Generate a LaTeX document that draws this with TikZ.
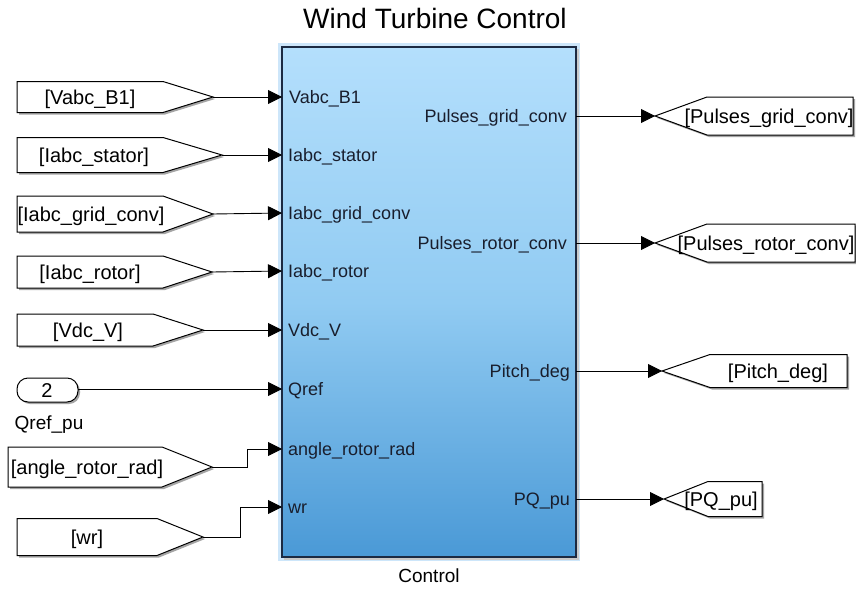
\documentclass[tikz,border=0pt]{standalone}
\usepackage{fontspec}
\setmainfont{Liberation Sans}
\usetikzlibrary{arrows.meta}
\definecolor{blkTop}{RGB}{180,223,252}
\definecolor{blkMid}{RGB}{145,203,242}
\definecolor{blkBot}{RGB}{74,153,214}
\definecolor{blkEdge}{RGB}{28,42,66}
\definecolor{blkGlow}{RGB}{205,230,250}
\definecolor{shadowgray}{RGB}{165,165,165}
\definecolor{lbltext}{RGB}{25,30,45}
\tikzset{
  conn/.style={line width=0.9pt, -{Triangle[length=14pt,width=14pt]}},
  tagshape/.style={draw=black, line width=1pt, fill=white},
  tagshadow/.style={fill=shadowgray, draw=none},
  tagtext/.style={font=\fontsize{20}{20}\selectfont, inner sep=0pt, anchor=base},
  portin/.style={font=\fontsize{18}{18}\selectfont, inner sep=0pt, anchor=base west, text=lbltext},
  portout/.style={font=\fontsize{18}{18}\selectfont, inner sep=0pt, anchor=base east, text=lbltext},
  plain/.style={font=\fontsize{19}{19}\selectfont, inner sep=0pt, anchor=base},
}
% left "From" tag: name, xl, xr, yc, halfh, slant, textx, text
\newcommand{\fromtag}[8]{%
  \fill[tagshadow] (#2+2,#4-#5+2) -- (#3-#6+2,#4-#5+2) -- (#3+2,#4+2) -- (#3-#6+2,#4+#5+2) -- (#2+2,#4+#5+2) -- cycle;
  \draw[tagshape] (#2,#4-#5) -- (#3-#6,#4-#5) -- (#3,#4) -- (#3-#6,#4+#5) -- (#2,#4+#5) -- cycle;
  \node[tagtext] (#1) at (#7,#4+7) {#8};
  \coordinate (#1tip) at (#3,#4);
}
% right "Goto" tag: name, xtip, xr, yc, halfh, slant, textx, text
\newcommand{\gototag}[8]{%
  \fill[tagshadow] (#2+2,#4+2) -- (#2+#6+2,#4-#5+2) -- (#3+2,#4-#5+2) -- (#3+2,#4+#5+2) -- (#2+#6+2,#4+#5+2) -- cycle;
  \draw[tagshape] (#2,#4) -- (#2+#6,#4-#5) -- (#3,#4-#5) -- (#3,#4+#5) -- (#2+#6,#4+#5) -- cycle;
  \node[tagtext] (#1) at (#7,#4+7) {#8};
  \coordinate (#1tip) at (#2,#4);
}
\begin{document}
\begin{tikzpicture}[x=1pt,y=-1pt]
\useasboundingbox (0,0) rectangle (856,589);
\fill[white] (0,0) rectangle (856,589);

% title
\node[font=\fontsize{28}{28}\selectfont, inner sep=0pt, anchor=base] (title) at (435,28) {Wind Turbine Control};

% main block
\fill[blkGlow] (278,43) rectangle (580,561);
\fill[shadowgray!60] (284,49) rectangle (579,560);
\shade[top color=blkTop, bottom color=blkBot, middle color=blkMid] (282,47) rectangle (576,557);
\draw[blkEdge, line width=1.3pt] (282,47) rectangle (576,557);
\node[plain] (ctrl) at (429,582) {Control};

% input port coordinates
\coordinate (pVabc) at (282,97);
\coordinate (pIst) at (282,155);
\coordinate (pIgc) at (282,213);
\coordinate (pIro) at (282,271);
\coordinate (pVdc) at (282,330);
\coordinate (pQref) at (282,389);
\coordinate (pAng) at (282,449);
\coordinate (pWr) at (282,507);
% output port coordinates
\coordinate (oPg) at (576,116);
\coordinate (oPr) at (576,243);
\coordinate (oPd) at (576,371);
\coordinate (oPQ) at (576,499);

% port labels
\node[portin] (lVabc) at (289,103) {Vabc\_B1};
\node[portin] (lIst) at (288,161) {Iabc\_stator};
\node[portin] (lIgc) at (288,219) {Iabc\_grid\_conv};
\node[portin] (lIro) at (288,277) {Iabc\_rotor};
\node[portin] (lVdc) at (288,336) {Vdc\_V};
\node[portin] (lQref) at (288,395) {Qref};
\node[portin] (lAng) at (288,455) {angle\_rotor\_rad};
\node[portin] (lWr) at (288,513) {wr};
\node[portout] (lPg) at (567,122) {Pulses\_grid\_conv};
\node[portout] (lPr) at (567,249) {Pulses\_rotor\_conv};
\node[portout] (lPd) at (570,377) {Pitch\_deg};
\node[portout] (lPQ) at (570,505) {PQ\_pu};

% left tags
\fromtag{fVabc}{17}{213}{97}{15.5}{50}{90}{[Vabc\_B1]}
\fromtag{fIst}{17}{222}{155}{17.5}{59}{94}{[Iabc\_stator]}
\fromtag{fIgc}{17}{213}{214}{18}{50}{91}{[Iabc\_grid\_conv]}
\fromtag{fIro}{17}{212}{272}{16}{49}{90}{[Iabc\_rotor]}
\fromtag{fVdc}{17}{203}{330}{16}{50}{88}{[Vdc\_V]}
\fromtag{fAng}{8}{212}{467}{20}{50}{87}{[angle\_rotor\_rad]}
\fromtag{fWr}{17}{203}{537}{18.5}{46}{87}{[wr]}

% constant
\fill[shadowgray, rounded corners=11pt] (19,380) rectangle (80,404);
\draw[tagshape, rounded corners=11pt] (17,378) rectangle (78,402);
\node[tagtext] (cst) at (47,397) {2};
\coordinate (cstR) at (78,389);
\node[plain] (cstlbl) at (49,429) {Qref\_pu};

% right tags
\gototag{gPg}{655}{853}{116}{19}{52}{769}{[Pulses\_grid\_conv]}
\gototag{gPr}{655}{855}{243}{19}{52}{766}{[Pulses\_rotor\_conv]}
\gototag{gPd}{662}{847}{371}{16.5}{48}{778}{[Pitch\_deg]}
\gototag{gPQ}{664}{762}{499}{17.5}{44}{721}{[PQ\_pu]}

% connectors
\draw[conn] (fVabctip) -- (pVabc);
\draw[conn] (fIsttip) -- (pIst);
\draw[conn] (fIgctip) -- (pIgc);
\draw[conn] (fIrotip) -- (pIro);
\draw[conn] (fVdctip) -- (pVdc);
\draw[conn] (cstR) -- (pQref);
\draw[conn] (fAngtip) -- (247,467) |- (pAng);
\draw[conn] (fWrtip) -- (240,537) |- (pWr);
\draw[conn] (oPg) -- (gPgtip);
\draw[conn] (oPr) -- (gPrtip);
\draw[conn] (oPd) -- (gPdtip);
\draw[conn] (oPQ) -- (gPQtip);
\end{tikzpicture}
\end{document}
